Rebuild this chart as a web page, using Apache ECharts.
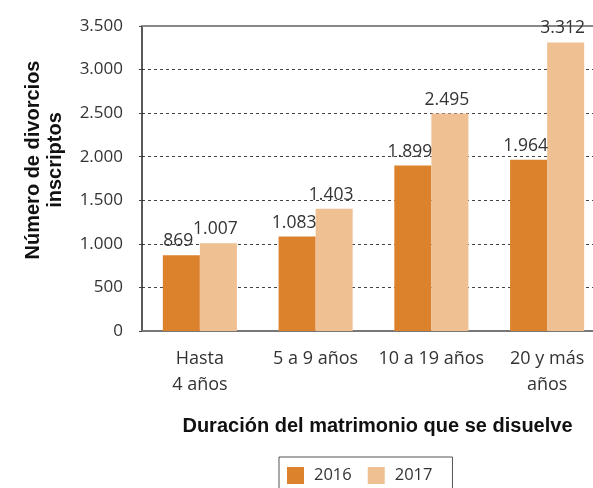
<!DOCTYPE html>
<html>
<head>
<meta charset="utf-8">
<script src="https://cdn.jsdelivr.net/npm/echarts@6/dist/echarts.min.js"></script>
<style>
  html, body { margin: 0; padding: 0; background: #fff; overflow: hidden; }
  /* el área de trazado sigue más allá del borde derecho, como en el original */
  #chart { width: 605px; height: 488px; }
</style>
</head>
<body>
<div id="chart"></div>
<script>
// categorías y valores
const categories = ['Hasta\n4 años', '5 a 9 años', '10 a 19 años', '20 y más\naños'];
const years = ['2016', '2017'];
const values2016 = [869, 1083, 1899, 1964];
const values2017 = [1007, 1403, 2495, 3312];
const yTicksMax = 3500;

const fmt = v => v.toLocaleString('es-ES', { useGrouping: 'always' }).replace(/,/g, '.');

const chart = echarts.init(document.getElementById('chart'));

const labelStyle = {
  show: true,
  position: 'top',
  distance: 5,
  offset: [-3, 0],
  color: '#333',
  fontFamily: 'Open Sans',
  fontSize: 17.5,
  formatter: p => fmt(p.value)
};

const option = {
  animation: false,
  grid: {
    left: 142,
    right: 0,
    top: 26,
    bottom: 157
  },
  legend: {
    data: years,
    left: 279,
    top: 457,
    itemWidth: 17,
    itemHeight: 17,
    itemGap: 16,
    borderColor: '#555',
    borderWidth: 1,
    padding: [10, 20, 12, 8],
    icon: 'rect',
    textStyle: { color: '#333', fontFamily: 'Open Sans', fontSize: 16.5, padding: [0, 0, 0, 5] }
  },
  xAxis: [{
    type: 'category',
    data: categories,
    axisLine: { lineStyle: { color: '#777', width: 2 } },
    axisTick: { show: false },
    axisLabel: {
      interval: 0,
      color: '#333',
      fontFamily: 'Open Sans',
      fontSize: 18,
      lineHeight: 26,
      margin: 15
    },
    name: 'Duración del matrimonio que se disuelve',
    nameLocation: 'middle',
    nameGap: 85,
    nameTextStyle: {
      color: '#111',
      fontFamily: 'Liberation Sans',
      fontWeight: 'bold',
      fontSize: 20,
      padding: [0, 0, 0, 8]
    }
  }, {
    // línea superior del área
    type: 'category',
    position: 'top',
    data: categories,
    axisLine: { lineStyle: { color: '#888', width: 2 } },
    axisTick: { show: false },
    axisLabel: { show: false }
  }],
  yAxis: {
    type: 'value',
    min: 0,
    max: yTicksMax,
    interval: 500,
    axisLine: { show: true, lineStyle: { color: '#222', width: 1.5 } },
    axisTick: { show: true, length: 5, lineStyle: { color: '#444', type: [3, 3] } },
    axisLabel: {
      color: '#333',
      fontFamily: 'Open Sans',
      fontSize: 17,
      margin: 19,
      formatter: v => fmt(v)
    },
    splitLine: { lineStyle: { color: '#444', type: [3, 3], width: 1 } }
  },
  graphic: [{
    type: 'text',
    x: 44,
    y: 160,
    rotation: Math.PI / 2,
    style: {
      text: 'Número de divorcios\ninscriptos',
      fill: '#111',
      font: 'bold 20px "Liberation Sans"',
      align: 'center',
      verticalAlign: 'middle',
      lineHeight: 22
    }
  }],
  series: [{
    name: years[0],
    type: 'bar',
    data: values2016,
    barGap: '0%',
    barCategoryGap: '36%',
    itemStyle: { color: '#DC822C' },
    label: labelStyle
  }, {
    name: years[1],
    type: 'bar',
    data: values2017,
    barGap: '0%',
    barCategoryGap: '36%',
    itemStyle: { color: '#EFC092' },
    label: labelStyle
  }]
};

chart.setOption(option);
</script>
</body>
</html>
